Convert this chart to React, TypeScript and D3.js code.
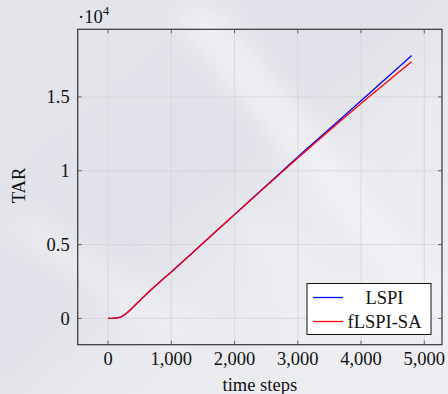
import React, { useEffect, useRef } from 'react';
import * as d3 from 'd3';

const timeSteps = [0, 100, 200, 300, 400, 500, 600, 800, 1000, 1200, 1400, 1600, 1800, 2000, 2200, 2400, 2600, 2800, 3000, 3200, 3400, 3600, 3800, 4000, 4200, 4400, 4600, 4800];
const lspiValues = [0, 20, 90, 380, 780, 1200, 1620, 2400, 3150, 3920, 4700, 5480, 6260, 7040, 7820, 8600, 9380, 10160, 10940, 11700, 12460, 13220, 13980, 14740, 15505, 16270, 17035, 17800];
const flspiValues = [0, 20, 90, 380, 780, 1200, 1620, 2400, 3150, 3920, 4700, 5480, 6260, 7030, 7800, 8570, 9340, 10100, 10860, 11610, 12360, 13100, 13830, 14560, 15270, 15970, 16680, 17380];

const xTicks = [0, 1000, 2000, 3000, 4000, 5000];
const yTicks = [0, 5000, 10000, 15000];
const seriesNames = ['LSPI', 'fLSPI-SA'];
const seriesColors = ['#0000ff', '#ff0000'];

const W = 448;
const H = 394;

const App: React.FC = () => {
  const svgRef = useRef<SVGSVGElement>(null);

  useEffect(() => {
    if (!svgRef.current) return;
    const root = d3.select(svgRef.current);
    root.selectAll('*').remove();

    const font = '"Liberation Serif", "Times New Roman", serif';
    const fs = 18.5;
    const margin = { top: 29.3, right: 6, bottom: 49.3, left: 77.7 };
    const width = W - margin.left - margin.right;
    const height = H - margin.top - margin.bottom;

    // background: grey photo-ish texture with a lighter diagonal streak
    const defs = root.append('defs');
    const grad = defs.append('linearGradient')
      .attr('id', 'bg-grad')
      .attr('x1', '0').attr('y1', '0').attr('x2', '1').attr('y2', '1');
    grad.append('stop').attr('offset', '0%').attr('stop-color', '#e5e6ec');
    grad.append('stop').attr('offset', '45%').attr('stop-color', '#e1e2e9');
    grad.append('stop').attr('offset', '60%').attr('stop-color', '#e9eaee');
    grad.append('stop').attr('offset', '100%').attr('stop-color', '#eeeff2');
    defs.append('filter').attr('id', 'blur')
      .append('feGaussianBlur').attr('stdDeviation', 12);

    root.append('rect').attr('width', W).attr('height', H).attr('fill', 'url(#bg-grad)');
    root.append('path')
      .attr('d', 'M170,10 L215,10 L448,290 L448,350 Z')
      .attr('fill', '#f3f3f6')
      .attr('opacity', 0.85)
      .attr('filter', 'url(#blur)');
    root.append('path')
      .attr('d', 'M240,210 L448,330 L448,394 L300,394 Z')
      .attr('fill', '#eeeff2')
      .attr('opacity', 0.7)
      .attr('filter', 'url(#blur)');
    root.append('path')
      .attr('d', 'M0,225 L35,215 L210,330 L170,350 Z')
      .attr('fill', '#f0f0f3')
      .attr('opacity', 0.6)
      .attr('filter', 'url(#blur)');

    const x = d3.scaleLinear().domain([-480, 5280]).range([0, width]);
    const y = d3.scaleLinear().domain([-1780, 19580]).range([height, 0]);

    const g = root.append('g').attr('transform', `translate(${margin.left},${margin.top})`);

    // grid
    g.append('g').selectAll('line').data(xTicks).enter().append('line')
      .attr('x1', d => x(d)).attr('x2', d => x(d))
      .attr('y1', 0).attr('y2', height)
      .attr('stroke', '#d3d4d9').attr('stroke-width', 0.8);
    g.append('g').selectAll('line').data(yTicks).enter().append('line')
      .attr('y1', d => y(d)).attr('y2', d => y(d))
      .attr('x1', 0).attr('x2', width)
      .attr('stroke', '#d3d4d9').attr('stroke-width', 0.8);

    // lines
    const series = [lspiValues, flspiValues];
    const line = d3.line<number>()
      .x((_, i) => x(timeSteps[i]))
      .y(d => y(d))
      .curve(d3.curveMonotoneX);
    series.forEach((vals, i) => {
      g.append('path')
        .datum(vals)
        .attr('d', line)
        .attr('fill', 'none')
        .attr('stroke', seriesColors[i])
        .attr('stroke-width', 1.3);
    });

    // axis box + inward ticks
    g.append('rect').attr('width', width).attr('height', height)
      .attr('fill', 'none').attr('stroke', '#333').attr('stroke-width', 1.2);
    const tickLen = 4;
    xTicks.forEach(t => {
      g.append('line').attr('x1', x(t)).attr('x2', x(t)).attr('y1', height).attr('y2', height - tickLen)
        .attr('stroke', '#444').attr('stroke-width', 0.8);
      g.append('line').attr('x1', x(t)).attr('x2', x(t)).attr('y1', 0).attr('y2', tickLen)
        .attr('stroke', '#444').attr('stroke-width', 0.8);
    });
    yTicks.forEach(t => {
      g.append('line').attr('y1', y(t)).attr('y2', y(t)).attr('x1', 0).attr('x2', tickLen)
        .attr('stroke', '#444').attr('stroke-width', 0.8);
      g.append('line').attr('y1', y(t)).attr('y2', y(t)).attr('x1', width).attr('x2', width - tickLen)
        .attr('stroke', '#444').attr('stroke-width', 0.8);
    });

    // tick labels
    const fmt = d3.format(',');
    g.append('g').selectAll('text').data(xTicks).enter().append('text')
      .attr('x', d => x(d)).attr('y', height + 20.5)
      .attr('text-anchor', 'middle')
      .attr('font-family', font).attr('font-size', fs).attr('fill', '#111')
      .text(d => fmt(d));
    g.append('g').selectAll('text').data(yTicks).enter().append('text')
      .attr('x', -8).attr('y', d => y(d))
      .attr('dy', '0.33em')
      .attr('text-anchor', 'end')
      .attr('font-family', font).attr('font-size', fs).attr('fill', '#111')
      .text(d => String(d / 10000));

    // scale label
    const sc = root.append('text')
      .attr('x', 78).attr('y', 23)
      .attr('font-family', font).attr('font-size', fs).attr('fill', '#111');
    sc.append('tspan').text('\u00b710');
    sc.append('tspan').attr('font-size', 13).attr('dy', -8).text('4');

    // axis titles
    root.append('text')
      .attr('x', margin.left + x(2400)).attr('y', 391)
      .attr('text-anchor', 'middle')
      .attr('font-family', font).attr('font-size', fs).attr('fill', '#111')
      .text('time steps');
    root.append('text')
      .attr('transform', `translate(24.5,${margin.top + y(9000)}) rotate(-90)`)
      .attr('text-anchor', 'middle')
      .attr('font-family', font).attr('font-size', fs).attr('fill', '#111')
      .text('TAR');

    // legend
    const lg = root.append('g').attr('transform', 'translate(307,283.5)');
    lg.append('rect').attr('width', 124).attr('height', 51)
      .attr('fill', '#fff').attr('stroke', '#111').attr('stroke-width', 1);
    seriesNames.forEach((name, i) => {
      const yy = 14 + i * 24;
      lg.append('line').attr('x1', 6).attr('x2', 36).attr('y1', yy).attr('y2', yy)
        .attr('stroke', seriesColors[i]).attr('stroke-width', 1.3);
      lg.append('text').attr('x', 77.5).attr('y', yy).attr('dy', '0.35em')
        .attr('text-anchor', 'middle')
        .attr('font-family', font).attr('font-size', fs).attr('fill', '#111')
        .text(name);
    });
  }, []);

  return (
    <div style={{ position: 'absolute', left: 0, top: 0, width: W, height: H }}>
      <svg ref={svgRef} width={W} height={H} style={{ display: 'block' }} />
    </div>
  );
};

export default App;
